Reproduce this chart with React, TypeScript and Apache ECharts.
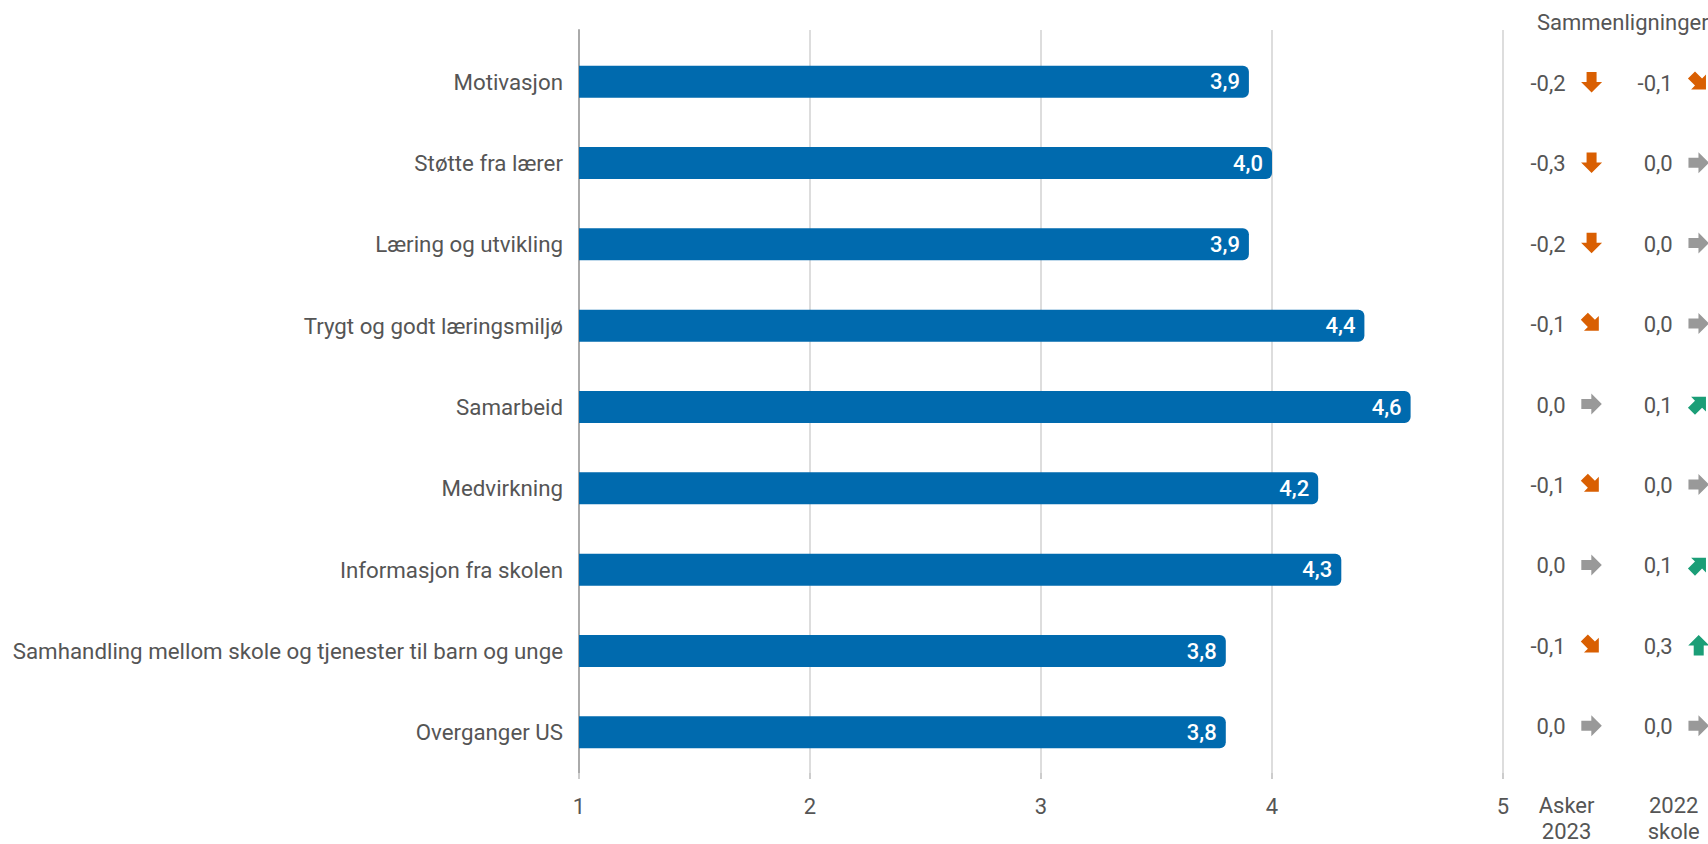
import React, { useEffect, useRef } from "react";
import * as echarts from "echarts";

const categories = [
  "Motivasjon",
  "Støtte fra lærer",
  "Læring og utvikling",
  "Trygt og godt læringsmiljø",
  "Samarbeid",
  "Medvirkning",
  "Informasjon fra skolen",
  "Samhandling mellom skole og tjenester til barn og unge",
  "Overganger US",
];
const scores = [3.9, 4.0, 3.9, 4.4, 4.6, 4.2, 4.3, 3.8, 3.8];
const compAsker = [-0.2, -0.3, -0.2, -0.1, 0.0, -0.1, 0.0, -0.1, 0.0];
const comp2022 = [-0.1, 0.0, 0.0, 0.0, 0.1, 0.0, 0.1, 0.3, 0.0];
const compColumns = ["Asker\n2023", "2022\nskole"];
const xTicks = [1, 2, 3, 4, 5];
const titleText = "Sammenligninger";

const FONT = "Roboto";
const TEXT = "#555555";
const BAR = "#006aae";
const ORANGE = "#d95f02";
const GREEN = "#1b9e77";
const GRAY = "#999999";

const fmt = (v: number) => v.toFixed(1).replace(".", ",");

const ARROW = "M-10,-5 L0,-5 L0,-10.5 L10.5,0 L0,10.5 L0,5 L-10,5 Z";

function arrowStyle(v: number) {
  const r = Math.round(v * 10);
  if (r <= -2) return { rot: -Math.PI / 2, color: ORANGE };
  if (r === -1) return { rot: -Math.PI / 4, color: ORANGE };
  if (r === 0) return { rot: 0, color: GRAY };
  if (r === 1) return { rot: Math.PI / 4, color: GREEN };
  return { rot: Math.PI / 2, color: GREEN };
}

export default function App() {
  const ref = useRef<HTMLDivElement>(null);
  useEffect(() => {
    if (!ref.current) return;
    const chart = echarts.init(ref.current, undefined, { renderer: "svg" });
    const compData: any[] = [];
    categories.forEach((_, i) => {
      compData.push([0, i, compAsker[i]]);
      compData.push([1, i, comp2022[i]]);
    });
    const option: any = {
      animation: false,
      textStyle: { fontFamily: FONT },
      title: {
        text: titleText,
        left: 1532,
        top: 6,
        textStyle: { fontFamily: FONT, fontSize: 22, fontWeight: "normal", color: TEXT },
      },
      grid: [
        { left: 579, right: 205, top: 41, bottom: 71 },
        { left: 579, right: 205, top: 30, bottom: 71 },
        { left: 1513, right: 0, top: 41, bottom: 71 },
      ],
      xAxis: [
        { gridIndex: 0, type: "value", min: 1, max: 5, show: false },
        {
          gridIndex: 1,
          type: "value",
          min: 1,
          max: 5,
          interval: 1,
          splitLine: { show: true, lineStyle: { color: "#dddddd", width: 2 } },
          axisLine: { show: false },
          axisTick: { show: true, length: 6, lineStyle: { color: "#cccccc", width: 2 } },
          axisLabel: {
            fontSize: 22,
            color: TEXT,
            margin: 22,
            fontFamily: FONT,
            customValues: xTicks,
          },
        },
        {
          gridIndex: 2,
          type: "value",
          min: -0.5,
          max: 1.32,
          splitLine: { show: false },
          axisLine: { show: false },
          axisTick: { show: false },
          axisLabel: {
            fontSize: 22,
            color: TEXT,
            lineHeight: 26,
            margin: 27,
            fontFamily: FONT,
            customValues: [0, 1],
            formatter: (v: number) => compColumns[Math.round(v)] ?? "",
          },
        },
      ],
      yAxis: [
        {
          gridIndex: 0,
          type: "category",
          data: categories,
          inverse: true,
          axisLine: { show: false },
          axisTick: { show: false },
          axisLabel: { fontSize: 22.3, color: TEXT, margin: 16, fontFamily: FONT },
        },
        {
          gridIndex: 1,
          type: "value",
          min: 0,
          max: 1,
          axisLine: { show: true, lineStyle: { color: "#aaaaaa", width: 2 } },
          axisTick: { show: false },
          axisLabel: { show: false },
          splitLine: { show: false },
        },
        {
          gridIndex: 2,
          type: "category",
          data: categories,
          inverse: true,
          show: false,
        },
      ],
      series: [
        {
          type: "bar",
          xAxisIndex: 0,
          yAxisIndex: 0,
          data: scores,
          barWidth: 32,
          itemStyle: { color: BAR, borderRadius: [0, 6, 6, 0] },
          label: {
            show: true,
            position: "insideRight",
            distance: 9,
            color: "#ffffff",
            fontSize: 22,
            fontWeight: 500,
            fontFamily: FONT,
            formatter: (p: any) => fmt(p.value),
          },
        },
        {
          type: "custom",
          xAxisIndex: 2,
          yAxisIndex: 2,
          data: compData,
          clip: false,
          renderItem: (params: any, api: any) => {
            const col = api.value(0);
            const row = api.value(1);
            const v = api.value(2);
            const pt = api.coord([col, row]);
            const a = arrowStyle(v);
            return {
              type: "group",
              children: [
                {
                  type: "text",
                  x: pt[0] - 1,
                  y: pt[1] + 2,
                  style: {
                    text: fmt(v),
                    fontSize: 22,
                    fontFamily: FONT,
                    fill: TEXT,
                    align: "right",
                    verticalAlign: "middle",
                  },
                },
                {
                  type: "path",
                  x: pt[0] + 25,
                  y: pt[1] + 1,
                  rotation: a.rot,
                  shape: { pathData: ARROW, x: -10.5, y: -10.5, width: 21, height: 21 },
                  style: { fill: a.color },
                },
              ],
            };
          },
        },
      ],
    };
    chart.setOption(option);
    return () => chart.dispose();
  }, []);
  return (
    <div
      ref={ref}
      style={{ position: "fixed", left: 0, top: 0, width: "1708px", height: "844px", background: "#fff" }}
    />
  );
}
